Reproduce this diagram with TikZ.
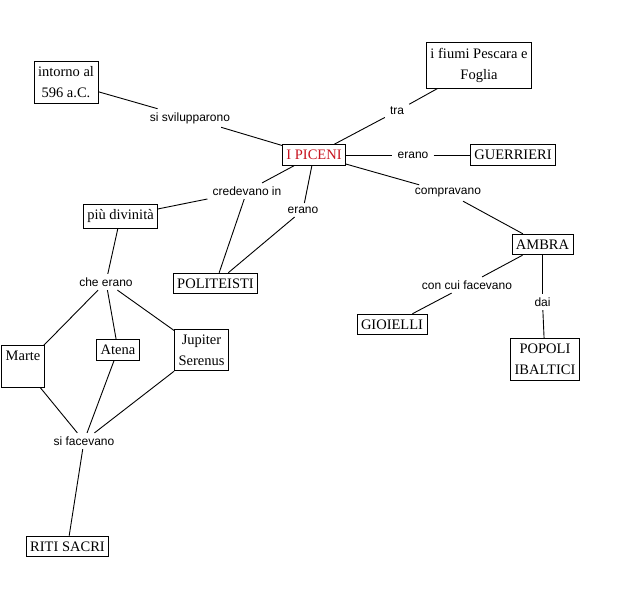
\documentclass[tikz,border=0pt]{standalone}
\usepackage{fontspec}
\setmainfont{Liberation Serif}
\setsansfont{Liberation Sans}
\usepackage{xcolor}
\usepackage{tikz}
\usetikzlibrary{positioning}
\definecolor{picenired}{RGB}{200,20,32}
\tikzset{
  concept/.style={draw, line width=0.8pt, fill=white, align=center, inner xsep=4pt, inner ysep=5.5pt, font=\fontsize{14.5}{21}\selectfont},
  link/.style={inner xsep=5pt, inner ysep=3.5pt, font=\sffamily\fontsize{12}{14}\selectfont},
  line/.style={line width=0.9pt}
}
\begin{document}
\begin{tikzpicture}[x=1pt, y=1pt, on grid]
  \useasboundingbox[fill=white] (0,0) rectangle (623,598);

  \node[concept, text=picenired] (piceni) at (314,443) {I PICENI};

  % upper part
  \node[link, above left=37 and 124 of piceni] (svil) {si svilupparono};
  \node[concept, above left=35.5 and 124 of svil] (epoca) {intorno al\\596 a.C.};
  \node[link, above right=44 and 83 of piceni] (tra) {tra};
  \node[concept, above right=45.5 and 82 of tra] (fiumi) {i fiumi Pescara e\\Foglia};
  \node[link, right=99 of piceni] (erano1) {erano};
  \node[concept, right=100 of erano1] (guerr) {GUERRIERI};

  % right branch
  \node[link, below right=38 and 134 of piceni] (compr) {compravano};
  \node[concept, below right=51.5 and 94.5 of compr] (ambra) {AMBRA};
  \node[link, below left=40.5 and 75.5 of ambra] (concui) {con cui facevano};
  \node[concept, below left=39.5 and 75 of concui] (gioielli) {GIOIELLI};
  \node[link, below=57.5 of ambra] (dai) {dai};
  \node[concept, below right=57.5 and 2.5 of dai] (popoli) {POPOLI\\IBALTICI};

  % left branch
  \node[link, below left=36 and 67 of piceni] (cred) {credevano in};
  \node[link, below left=55 and 11 of piceni] (erano2) {erano};
  \node[concept, below left=25.5 and 126.5 of cred] (divin) {più divinità};
  \node[concept, below left=92.5 and 31.5 of cred] (polit) {POLITEISTI};
  \node[link, below left=65.5 and 14.5 of divin] (cheerano) {che erano};
  \node[concept, below right=68 and 12 of cheerano] (atena) {Atena};
  \node[concept, below left=16.5 and 95 of atena] (marte) {Marte\\\mbox{}};
  \node[concept, right=83.5 of atena] (jupiter) {Jupiter\\Serenus};
  \node[link, below left=91 and 34 of atena] (facev) {si facevano};
  \node[concept, below left=105.5 and 16.5 of facev] (riti) {RITI SACRI};

  \draw[line] (epoca) -- (svil);
  \draw[line] (svil) -- (piceni);
  \draw[line] (piceni) -- (tra);
  \draw[line] (tra) -- (fiumi);
  \draw[line] (piceni) -- (erano1);
  \draw[line] (erano1) -- (guerr);
  \draw[line] (piceni) -- (compr);
  \draw[line] (compr) -- (ambra);
  \draw[line] (ambra) -- (concui);
  \draw[line] (concui) -- (gioielli);
  \draw[line] (ambra) -- (dai);
  \draw[line] (dai) -- (popoli);
  \draw[line] (piceni) -- (cred);
  \draw[line] (cred) -- (divin);
  \draw[line] (cred) -- (polit);
  \draw[line] (piceni) -- (erano2);
  \draw[line] (erano2) -- (polit);
  \draw[line] (divin) -- (cheerano);
  \draw[line] (cheerano) -- (marte);
  \draw[line] (cheerano) -- (atena);
  \draw[line] (cheerano) -- (jupiter);
  \draw[line] (marte) -- (facev);
  \draw[line] (atena) -- (facev);
  \draw[line] (jupiter) -- (facev);
  \draw[line] (facev) -- (riti);
\end{tikzpicture}
\end{document}
